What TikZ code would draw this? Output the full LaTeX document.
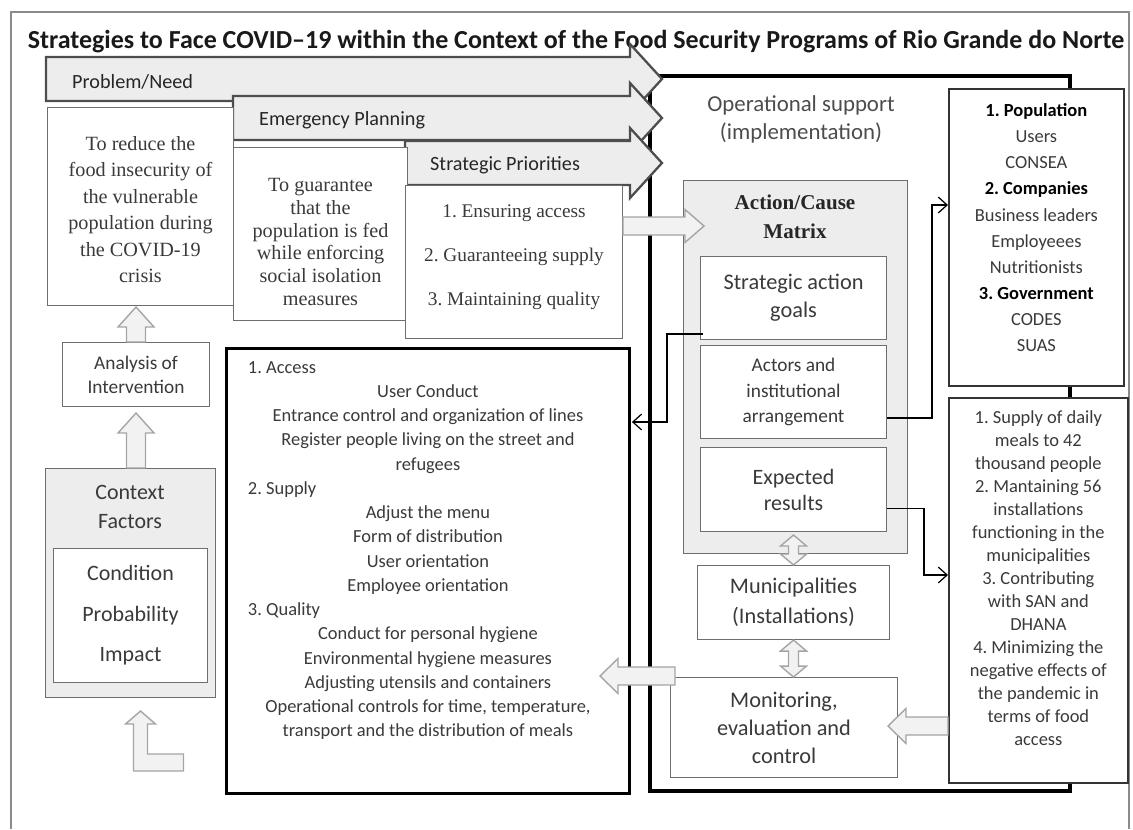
\documentclass[tikz,border=0pt]{standalone}
\usepackage{fontspec}
\setmainfont{Liberation Serif}
\setsansfont{Carlito}
\frenchspacing
\usetikzlibrary{arrows.meta,calc,positioning}

\definecolor{framegray}{HTML}{8A8A8A}
\definecolor{boxgray}{HTML}{6E6E6E}
\definecolor{arrowgray}{HTML}{4D4D4D}
\definecolor{panelgray}{HTML}{EDEDED}
\definecolor{hollowgray}{HTML}{F2F2F2}
\definecolor{hollowline}{HTML}{A5A5A5}
\definecolor{textgray}{HTML}{3A3A3A}

\tikzset{
  box/.style={draw=boxgray, line width=0.6pt, fill=white, inner sep=0pt},
  txt/.style={align=center, text=textgray, inner sep=0pt},
  bigarrow/.style={draw=arrowgray, line width=1.3pt, fill=panelgray, line join=miter},
  hollow/.style={draw=hollowline, line width=0.8pt, fill=hollowgray, line join=miter},
  conn/.style={line width=0.7pt, -{Straight Barb[length=5pt,width=9pt]}},
  pics/upblock/.style={code={
    \draw[hollow] (-9.5,0) -- (-9.5,{-#1+20}) -- (-18,{-#1+20}) -- (0,-#1)
      -- (18,{-#1+20}) -- (9.5,{-#1+20}) -- (9.5,0) -- cycle;}},
  pics/leftblock/.style={code={
    \draw[hollow] (0,-9) -- ({-#1+18},-9) -- ({-#1+18},-17.5) -- (-#1,0)
      -- ({-#1+18},17.5) -- ({-#1+18},9) -- (0,9) -- cycle;}},
  pics/rightblock/.style={code={
    \draw[hollow] (0,-9) -- ({#1-19},-9) -- ({#1-19},-16.5) -- (#1,0)
      -- ({#1-19},16.5) -- ({#1-19},9) -- (0,9) -- cycle;}},
  pics/updown/.style={code={
    \draw[hollow] (0,0) -- (13,11) -- (5,11) -- (5,{#1-11}) -- (13,{#1-11}) -- (0,#1)
      -- (-13,{#1-11}) -- (-5,{#1-11}) -- (-5,11) -- (-13,11) -- cycle;}}
}

\begin{document}
\begin{tikzpicture}[x=0.02cm, y=-0.02cm]
  \useasboundingbox (0,0) rectangle (1133,829);
  \draw[framegray, line width=1.6pt] (11,829) -- (11,12) -- (1129,12) -- (1129,829);

  \node[font=\sffamily\bfseries\fontsize{14.8}{17}\selectfont, text=black!90] (title) at (576,42)
    {Strategies to Face COVID--19 within the Context of the Food Security Programs of Rio Grande do Norte};

  % operational support frame
  \draw[line width=2.3pt] (650,76) rectangle (1070,791);
  \node[txt, font=\sffamily\fontsize{13}{16}\selectfont, text=black!70] (operational) at (801,119)
    {Operational support\\(implementation)};

  % the three planning arrows
  \draw[bigarrow] (46,57) -- (630,57) -- (630,44) -- (662,79) -- (630,114) -- (630,101) -- (46,101) -- cycle;
  \draw[bigarrow] (233,96) -- (630,96) -- (630,83) -- (662,118) -- (630,153) -- (630,140) -- (233,140) -- cycle;
  \draw[bigarrow] (405,141) -- (630,141) -- (630,128) -- (662,163) -- (630,198) -- (630,185) -- (405,185) -- cycle;
  \node[anchor=west, font=\sffamily\fontsize{11.5}{14}\selectfont, text=black!85] (problem) at (66,82) {Problem/Need};
  \node[anchor=west, font=\sffamily\fontsize{11.5}{14}\selectfont, text=black!85] (emergency) at (253,120) {Emergency Planning};
  \node[anchor=west, font=\sffamily\fontsize{11.5}{14}\selectfont, text=black!85] (strategic) at (424,165) {Strategic Priorities};

  % planning boxes
  \node[box, minimum width=3.72cm, minimum height=3.96cm, anchor=north west] (reduce) at (47,107) {};
  \node[txt, font=\rmfamily\fontsize{11.5}{15.1}\selectfont] (reducetext) at ($(reduce.center)+(0,3)$)
    {To reduce the\\food insecurity of\\the vulnerable\\population during\\the COVID-19\\crisis};
  \node[box, minimum width=3.48cm, minimum height=3.46cm, anchor=north west] (guarantee) at (233,147) {};
  \node[txt, font=\rmfamily\fontsize{11.5}{13}\selectfont] (guaranteetext) at ($(guarantee.center)+(0,8)$)
    {To guarantee\\that the\\population is fed\\while enforcing\\social isolation\\measures};
  \node[box, minimum width=4.34cm, minimum height=3.06cm, anchor=north west] (priolist) at (405,185) {};
  \node[txt, font=\rmfamily\fontsize{11}{25}\selectfont] (priotext) at ($(priolist.center)+(0,-5)$)
    {1. Ensuring access\\2. Guaranteeing supply\\3. Maintaining quality};

  % left column
  \node[box, minimum width=2.94cm, minimum height=1.28cm, anchor=north west,
        txt, font=\sffamily\fontsize{11}{13.7}\selectfont] (analysis) at (62,342) {Analysis of\\Intervention};
  \node[box, fill=panelgray, minimum width=3.4cm, minimum height=4.58cm, anchor=north west] (context) at (45,468) {};
  \node[txt, font=\sffamily\fontsize{12.5}{16}\selectfont] (contexttext) at (130,507) {Context\\Factors};
  \node[box, minimum width=3.08cm, minimum height=2.68cm, anchor=north west,
        txt, font=\sffamily\fontsize{12.5}{23}\selectfont] (factors) at (53,548) {Condition\\Probability\\Impact};
  \pic at (analysis.north) {upblock=35};
  \pic at (context.north -| analysis.north) {upblock=55};
  \draw[hollow] ($(context.south)+(10,13)$) -- ++(15,13) -- ++(-8,0) -- ++(0,30) -- ++(36,0)
    -- ++(0,17) -- ++(-50,0) -- ++(0,-47) -- ++(-8,0) -- cycle;

  % measures
  \node[box, draw=black, line width=1.7pt, minimum width=8.06cm, minimum height=8.9cm, anchor=north west] (access) at (225,347) {};
  \node[txt, anchor=north, font=\sffamily\fontsize{10.5}{13.8}\selectfont] (accesstext) at ($(access.north)+(0,14)$)
    {\makebox[7.2cm][l]{1. Access}\\User Conduct\\Entrance control and organization of lines\\
     Register people living on the street and\\refugees\\
     \makebox[7.2cm][l]{2. Supply}\\Adjust the menu\\Form of distribution\\User orientation\\Employee orientation\\
     \makebox[7.2cm][l]{3. Quality}\\Conduct for personal hygiene\\Environmental hygiene measures\\
     Adjusting utensils and containers\\Operational controls for time, temperature,\\transport and the distribution of meals};

  % action/cause matrix
  \node[box, fill=panelgray, minimum width=4.48cm, minimum height=7.46cm, anchor=north west] (matrix) at (683,180) {};
  \node[txt, font=\rmfamily\bfseries\fontsize{12}{16.5}\selectfont, text=black!85] (matrixtext) at (795,217) {Action/Cause\\Matrix};
  \node[box, minimum width=3.72cm, minimum height=1.66cm, anchor=north west,
        txt, font=\sffamily\fontsize{12.7}{16}\selectfont] (goals) at (700,256) {Strategic action\\goals};
  \node[box, minimum width=3.72cm, minimum height=1.86cm, anchor=north west,
        txt, font=\sffamily\fontsize{11}{14.5}\selectfont] (actors) at (700,345) {Actors and\\institutional\\arrangement};
  \node[box, minimum width=3.72cm, minimum height=1.68cm, anchor=north west,
        txt, font=\sffamily\fontsize{12.5}{14.8}\selectfont] (expected) at (700,447) {Expected\\results};
  \node[box, minimum width=3.84cm, minimum height=1.48cm, anchor=north west,
        txt, font=\sffamily\fontsize{12.7}{17}\selectfont] (municip) at (697,565) {Municipalities\\(Installations)};
  \node[box, minimum width=4.54cm, minimum height=2cm, anchor=north west,
        txt, font=\sffamily\fontsize{12.7}{16}\selectfont] (monitor) at (670,677) {Monitoring,\\evaluation and\\control};

  % right column
  \node[box, draw=black!80, line width=1pt, minimum width=3.5cm, minimum height=5.94cm, anchor=north west] (population) at (948,88) {};
  \node[txt, anchor=north, font=\sffamily\fontsize{10.5}{14.9}\selectfont] (poptext) at ($(population.north)+(0,15)$)
    {\textbf{\color{black}1. Population}\\Users\\CONSEA\\\textbf{\color{black}2. Companies}\\Business leaders\\
     Employeees\\Nutritionists\\\textbf{\color{black}3. Government}\\CODES\\SUAS};
  \node[box, draw=black!80, line width=1pt, minimum width=3.58cm, minimum height=7.7cm, anchor=north west] (results) at (948,397) {};
  \node[txt, anchor=north, font=\sffamily\fontsize{10.5}{13.1}\selectfont] (resultstext) at ($(results.north)+(0,13)$)
    {1. Supply of daily\\meals to 42\\thousand people\\2. Mantaining 56\\installations\\functioning in the\\
     municipalities\\3. Contributing\\with SAN and\\DHANA\\4. Minimizing the\\negative effects of\\
     the pandemic in\\terms of food\\access};

  % block arrows
  \pic at ($(priolist.north east)+(0,41)$) {rightblock=81};
  \pic at ($(municip.north)+(0,-30)$) {updown=30};
  \pic at (municip.south) {updown=37};
  \pic at ($(monitor.north west)+(5,-1)$) {leftblock=75};
  \pic at ($(results.north west)+(0,329)$) {leftblock=60};

  % connectors
  \draw[conn] ($(goals.south west)+(3,-6)$) -- ++(-36,0) |- ($(access.north east)+(1,75)$);
  \draw[conn] ($(actors.south east)+(0,-21)$) -- ++(45,0) |- ($(population.north west)+(0,117)$);
  \draw[conn] ($(expected.east)+(0,19)$) -- ++(37,0) |- ($(results.north west)+(0,178)$);
\end{tikzpicture}
\end{document}
